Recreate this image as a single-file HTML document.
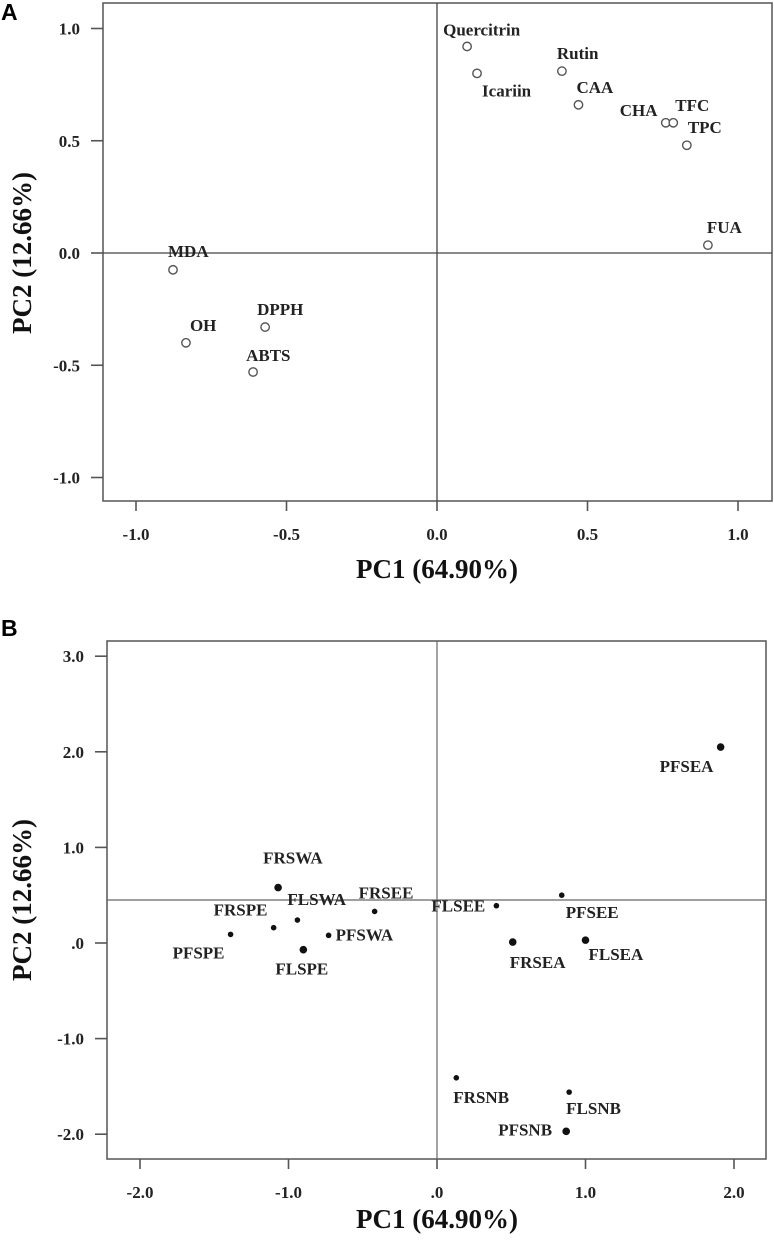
<!DOCTYPE html>
<html><head><meta charset="utf-8">
<style>
html,body{margin:0;padding:0;background:#fff;}
svg{display:block;}
.tk{font-family:"Liberation Serif",serif;font-weight:bold;font-size:17px;fill:#222;}
.lb{font-family:"Liberation Serif",serif;font-weight:bold;font-size:17px;fill:#222;}
.ttl{font-family:"Liberation Serif",serif;font-weight:bold;font-size:27px;fill:#111;}
.pl{font-family:"Liberation Sans",sans-serif;font-weight:bold;font-size:23px;fill:#000;}
</style></head>
<body>
<svg id="fig" width="774" height="1240" xmlns="http://www.w3.org/2000/svg"></svg>
<script>
// Panel A data (loadings)
const aNames = ["Quercitrin","Icariin","Rutin","CAA","CHA","TFC","TPC","FUA","MDA","OH","DPPH","ABTS"];
const aPC1 = [0.10,0.133,0.415,0.47,0.76,0.785,0.83,0.90,-0.877,-0.834,-0.571,-0.611];
const aPC2 = [0.92,0.80,0.81,0.66,0.58,0.58,0.48,0.035,-0.075,-0.40,-0.33,-0.53];
const aTicksX = [-1.0,-0.5,0.0,0.5,1.0];
const aTickLabelsX = ["-1.0","-0.5","0.0","0.5","1.0"];
const aTicksY = [1.0,0.5,0.0,-0.5,-1.0];
const aTickLabelsY = ["1.0","0.5","0.0","-0.5","-1.0"];
// Panel B data (scores)
const bNames = ["FRSWA","FLSWA","FRSPE","PFSPE","FLSPE","PFSWA","FRSEE","FLSEE","PFSEE","FRSEA","FLSEA","FRSNB","FLSNB","PFSNB","PFSEA"];
const bPC1 = [-1.07,-0.94,-1.10,-1.39,-0.90,-0.73,-0.42,0.40,0.84,0.51,1.00,0.13,0.89,0.87,1.91];
const bPC2 = [0.58,0.24,0.16,0.09,-0.07,0.08,0.33,0.39,0.50,0.01,0.03,-1.41,-1.56,-1.97,2.05];
const bBig = [1,0,0,0,1,0,0,0,0,1,1,0,0,1,1];
const bTicksX = [-2,-1,0,1,2];
const bTickLabelsX = ["-2.0","-1.0",".0","1.0","2.0"];
const bTicksY = [3,2,1,0,-1,-2];
const bTickLabelsY = ["3.0","2.0","1.0",".0","-1.0","-2.0"];
const bRefY = 0.45;

// label offsets (layout, px)
const aOff = [[-24,-11],[5,23],[-5,-12],[-2,-12],[-46,-7],[2,-12],[1,-12],[-1,-12],[-5,-13],[4,-12],[-8,-12],[-7,-11]];
const bOff = [[-15,-24],[-10,-15],[-60,-12],[-58,24],[-28,25],[7,5],[-16,-13],[-65,6],[4,23],[-3,26],[3,20],[-3,25],[-3,22],[-68,4],[-61,25]];

const NS="http://www.w3.org/2000/svg";
const svg=document.getElementById('fig');
function mk(tag,attrs,parent){const e=document.createElementNS(NS,tag);for(const k in attrs)e.setAttribute(k,attrs[k]);(parent||svg).appendChild(e);return e;}

// axis functions
const axA={x:v=>437+v*301,y:v=>253-v*224.5,L:103,T:3,R:772,B:501};
const axB={x:v=>437+v*148.5,y:v=>943-v*95.6,L:107,T:641,R:766,B:1159};

function frame(ax,name){
  const g=mk('g',{});
  
  
  const r=mk('rect',{x:ax.L,y:ax.T,width:ax.R-ax.L,height:ax.B-ax.T,fill:'none',stroke:'#555','stroke-width':1.5},g);
  
  
  return g;
}
function ticks(ax,name,tx,txl,ty,tyl){
  tx.forEach((v,i)=>{
    const X=ax.x(v);
    const l=mk('line',{x1:X,x2:X,y1:ax.B,y2:ax.B+10,stroke:'#555','stroke-width':1.6});
    
    
    const t=mk('text',{x:X,y:ax.B+39,'text-anchor':'middle',class:'tk'});
    t.textContent=txl[i];
    
    
  });
  ty.forEach((v,i)=>{
    const Y=ax.y(v);
    const l=mk('line',{x1:ax.L-12,x2:ax.L,y1:Y,y2:Y,stroke:'#555','stroke-width':1.6});
    
    
    const t=mk('text',{x:ax.L-23,y:Y+6,'text-anchor':'end',class:'tk'});
    t.textContent=tyl[i];
    
    
  });
}

// Panel A
frame(axA,'panel-a');
let l1=mk('line',{x1:axA.L,x2:axA.R,y1:axA.y(0),y2:axA.y(0),stroke:'#444','stroke-width':1.3});


let l2=mk('line',{x1:axA.x(0),x2:axA.x(0),y1:axA.T,y2:axA.B,stroke:'#444','stroke-width':1.3});


ticks(axA,'panel-a',aTicksX,aTickLabelsX,aTicksY,aTickLabelsY);
aNames.forEach((n,i)=>{
  const X=axA.x(aPC1[i]),Y=axA.y(aPC2[i]);
  const c=mk('circle',{cx:X,cy:Y,r:4.2,fill:'#fff',stroke:'#555','stroke-width':1.4});
  
  
  const t=mk('text',{x:X+aOff[i][0],y:Y+aOff[i][1],class:'lb'});
  t.textContent=n;
  
  
});

// Panel B
frame(axB,'panel-b');
let l3=mk('line',{x1:axB.L,x2:axB.R,y1:axB.y(bRefY),y2:axB.y(bRefY),stroke:'#666','stroke-width':1.2});


let l4=mk('line',{x1:axB.x(0),x2:axB.x(0),y1:axB.T,y2:axB.B,stroke:'#666','stroke-width':1.2});


ticks(axB,'panel-b',bTicksX,bTickLabelsX,bTicksY,bTickLabelsY);
bNames.forEach((n,i)=>{
  const X=axB.x(bPC1[i]),Y=axB.y(bPC2[i]);
  const c=mk('circle',{cx:X,cy:Y,r:bBig[i]?3.8:2.8,fill:'#111'});
  
  
  const t=mk('text',{x:X+bOff[i][0],y:Y+bOff[i][1],class:'lb'});
  t.textContent=n;
  
  
});
</script>
<div style="position:absolute;left:0;top:0;width:774px;height:1240px;pointer-events:none;">
<svg width="774" height="1240" xmlns="http://www.w3.org/2000/svg" style="position:absolute;left:0;top:0;">
  <text class="pl" x="1" y="20">A</text>
  <text class="pl" x="1" y="636">B</text>
  <text class="ttl" x="437" y="578" text-anchor="middle">PC1 (64.90%)</text>
  <text class="ttl" transform="translate(31,253) rotate(-90)" text-anchor="middle">PC2 (12.66%)</text>
  <text class="ttl" x="437" y="1228" text-anchor="middle">PC1 (64.90%)</text>
  <text class="ttl" transform="translate(31,900) rotate(-90)" text-anchor="middle">PC2 (12.66%)</text>
</svg>
</div>
</body></html>
